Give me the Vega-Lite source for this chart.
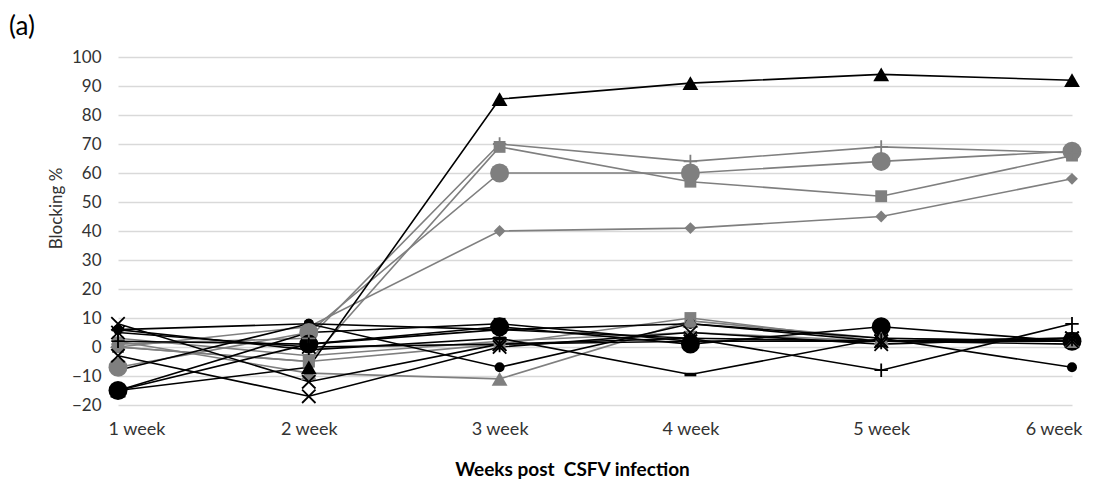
{
  "$schema": "https://vega.github.io/schema/vega-lite/v6.json",
  "width": 954,
  "height": 348,
  "autosize": {"type": "none"},
  "padding": {"left": 118, "top": 57, "right": 22, "bottom": 81},
  "background": "white",
  "title": {"text": "(a)", "anchor": "start", "frame": "group", "dx": -109, "offset": 8, "fontSize": 26, "fontWeight": "normal", "font": "Lato", "color": "#000000"},
  "config": {"view": {"stroke": null}},
  "data": {"values": [
    {"series": "G1", "group": "Group B", "week": "1 week", "value": 1},
    {"series": "G1", "group": "Group B", "week": "2 week", "value": 3},
    {"series": "G1", "group": "Group B", "week": "3 week", "value": 70},
    {"series": "G1", "group": "Group B", "week": "4 week", "value": 64},
    {"series": "G1", "group": "Group B", "week": "5 week", "value": 69},
    {"series": "G1", "group": "Group B", "week": "6 week", "value": 67},
    {"series": "G2", "group": "Group B", "week": "1 week", "value": 0},
    {"series": "G2", "group": "Group B", "week": "2 week", "value": -5},
    {"series": "G2", "group": "Group B", "week": "3 week", "value": 69},
    {"series": "G2", "group": "Group B", "week": "4 week", "value": 57},
    {"series": "G2", "group": "Group B", "week": "5 week", "value": 52},
    {"series": "G2", "group": "Group B", "week": "6 week", "value": 66},
    {"series": "G3", "group": "Group B", "week": "1 week", "value": -7},
    {"series": "G3", "group": "Group B", "week": "2 week", "value": 5},
    {"series": "G3", "group": "Group B", "week": "3 week", "value": 60},
    {"series": "G3", "group": "Group B", "week": "4 week", "value": 60},
    {"series": "G3", "group": "Group B", "week": "5 week", "value": 64},
    {"series": "G3", "group": "Group B", "week": "6 week", "value": 67.5},
    {"series": "G4", "group": "Group B", "week": "1 week", "value": 0},
    {"series": "G4", "group": "Group B", "week": "2 week", "value": 7},
    {"series": "G4", "group": "Group B", "week": "3 week", "value": 40},
    {"series": "G4", "group": "Group B", "week": "4 week", "value": 41},
    {"series": "G4", "group": "Group B", "week": "5 week", "value": 45},
    {"series": "G4", "group": "Group B", "week": "6 week", "value": 58},
    {"series": "G5", "group": "Group B", "week": "1 week", "value": 2},
    {"series": "G5", "group": "Group B", "week": "2 week", "value": -9},
    {"series": "G5", "group": "Group B", "week": "3 week", "value": -11},
    {"series": "G5", "group": "Group B", "week": "4 week", "value": 9},
    {"series": "G5", "group": "Group B", "week": "5 week", "value": 3},
    {"series": "G5", "group": "Group B", "week": "6 week", "value": 2},
    {"series": "G6", "group": "Group B", "week": "1 week", "value": 0},
    {"series": "G6", "group": "Group B", "week": "2 week", "value": -5},
    {"series": "G6", "group": "Group B", "week": "3 week", "value": 1},
    {"series": "G6", "group": "Group B", "week": "4 week", "value": 10},
    {"series": "G6", "group": "Group B", "week": "5 week", "value": 2},
    {"series": "G6", "group": "Group B", "week": "6 week", "value": 2},
    {"series": "G7", "group": "Group B", "week": "1 week", "value": 3},
    {"series": "G7", "group": "Group B", "week": "2 week", "value": -3},
    {"series": "G7", "group": "Group B", "week": "3 week", "value": 2},
    {"series": "G7", "group": "Group B", "week": "4 week", "value": 5},
    {"series": "G7", "group": "Group B", "week": "5 week", "value": 2},
    {"series": "G7", "group": "Group B", "week": "6 week", "value": 3},
    {"series": "B1", "group": "Group A", "week": "1 week", "value": -15},
    {"series": "B1", "group": "Group A", "week": "2 week", "value": -7},
    {"series": "B1", "group": "Group A", "week": "3 week", "value": 85.5},
    {"series": "B1", "group": "Group A", "week": "4 week", "value": 91},
    {"series": "B1", "group": "Group A", "week": "5 week", "value": 94},
    {"series": "B1", "group": "Group A", "week": "6 week", "value": 92},
    {"series": "B2", "group": "Group A", "week": "1 week", "value": 8},
    {"series": "B2", "group": "Group A", "week": "2 week", "value": -12},
    {"series": "B2", "group": "Group A", "week": "3 week", "value": 1},
    {"series": "B2", "group": "Group A", "week": "4 week", "value": 3},
    {"series": "B2", "group": "Group A", "week": "5 week", "value": 2},
    {"series": "B2", "group": "Group A", "week": "6 week", "value": 2},
    {"series": "B3", "group": "Group A", "week": "1 week", "value": -3},
    {"series": "B3", "group": "Group A", "week": "2 week", "value": -17},
    {"series": "B3", "group": "Group A", "week": "3 week", "value": 0},
    {"series": "B3", "group": "Group A", "week": "4 week", "value": 5},
    {"series": "B3", "group": "Group A", "week": "5 week", "value": 1},
    {"series": "B3", "group": "Group A", "week": "6 week", "value": 3},
    {"series": "B4", "group": "Group A", "week": "1 week", "value": -15},
    {"series": "B4", "group": "Group A", "week": "2 week", "value": 1},
    {"series": "B4", "group": "Group A", "week": "3 week", "value": 7},
    {"series": "B4", "group": "Group A", "week": "4 week", "value": 1},
    {"series": "B4", "group": "Group A", "week": "5 week", "value": 7},
    {"series": "B4", "group": "Group A", "week": "6 week", "value": 2},
    {"series": "B5", "group": "Group A", "week": "1 week", "value": -8},
    {"series": "B5", "group": "Group A", "week": "2 week", "value": 8},
    {"series": "B5", "group": "Group A", "week": "3 week", "value": -7},
    {"series": "B5", "group": "Group A", "week": "4 week", "value": 8},
    {"series": "B5", "group": "Group A", "week": "5 week", "value": 3},
    {"series": "B5", "group": "Group A", "week": "6 week", "value": -7},
    {"series": "B6", "group": "Group A", "week": "1 week", "value": 2},
    {"series": "B6", "group": "Group A", "week": "2 week", "value": 1},
    {"series": "B6", "group": "Group A", "week": "3 week", "value": 6},
    {"series": "B6", "group": "Group A", "week": "4 week", "value": 3},
    {"series": "B6", "group": "Group A", "week": "5 week", "value": -8},
    {"series": "B6", "group": "Group A", "week": "6 week", "value": 8},
    {"series": "B7", "group": "Group A", "week": "1 week", "value": -15},
    {"series": "B7", "group": "Group A", "week": "2 week", "value": 5},
    {"series": "B7", "group": "Group A", "week": "3 week", "value": 8},
    {"series": "B7", "group": "Group A", "week": "4 week", "value": 2},
    {"series": "B7", "group": "Group A", "week": "5 week", "value": 2},
    {"series": "B7", "group": "Group A", "week": "6 week", "value": 3},
    {"series": "B8", "group": "Group A", "week": "1 week", "value": 6},
    {"series": "B8", "group": "Group A", "week": "2 week", "value": -1},
    {"series": "B8", "group": "Group A", "week": "3 week", "value": 3},
    {"series": "B8", "group": "Group A", "week": "4 week", "value": -9.5},
    {"series": "B8", "group": "Group A", "week": "5 week", "value": 3},
    {"series": "B8", "group": "Group A", "week": "6 week", "value": 2},
    {"series": "B9", "group": "Group A", "week": "1 week", "value": 6},
    {"series": "B9", "group": "Group A", "week": "2 week", "value": 8},
    {"series": "B9", "group": "Group A", "week": "3 week", "value": 6},
    {"series": "B9", "group": "Group A", "week": "4 week", "value": 8},
    {"series": "B9", "group": "Group A", "week": "5 week", "value": 2},
    {"series": "B9", "group": "Group A", "week": "6 week", "value": 1},
    {"series": "B10", "group": "Group A", "week": "1 week", "value": 5},
    {"series": "B10", "group": "Group A", "week": "2 week", "value": 0},
    {"series": "B10", "group": "Group A", "week": "3 week", "value": 1},
    {"series": "B10", "group": "Group A", "week": "4 week", "value": 2},
    {"series": "B10", "group": "Group A", "week": "5 week", "value": 2},
    {"series": "B10", "group": "Group A", "week": "6 week", "value": 3}
  ]},
  "encoding": {
    "x": {
      "field": "week", "type": "ordinal",
      "sort": ["1 week", "2 week", "3 week", "4 week", "5 week", "6 week"],
      "scale": {"type": "point", "padding": 0},
      "axis": {
        "title": "Weeks post\u00a0 CSFV infection", "titleFont": "Lato", "titleFontSize": 19, "titleFontWeight": "bold", "titleColor": "#000000",
        "titleX": 454, "titlePadding": 22,
        "labelAngle": 0, "labelFont": "Lato", "labelFontSize": 18, "labelColor": "#333333", "labelPadding": 15,
        "labelFlush": true, "labelFlushOffset": 10,
        "domain": false, "ticks": false, "grid": false
      }
    },
    "y": {
      "field": "value", "type": "quantitative",
      "scale": {"domain": [-20, 100], "nice": false, "zero": false},
      "axis": {
        "title": "Blocking %", "titleFont": "Lato", "titleFontSize": 17, "titleFontWeight": "normal", "titleColor": "#333333",
        "titleY": 151, "titlePadding": 6,
        "values": [-20, -10, 0, 10, 20, 30, 40, 50, 60, 70, 80, 90, 100],
        "labelFont": "Lato", "labelFontSize": 17, "labelColor": "#333333", "labelPadding": 17,
        "domain": false, "ticks": false, "grid": true, "gridColor": "#d9d9d9", "gridWidth": 1.3
      }
    },
    "color": {
      "field": "group", "type": "nominal",
      "scale": {"domain": ["Group A", "Group B"], "range": ["#000000", "#7f7f7f"]},
      "legend": null
    },
    "shape": {
      "field": "series", "type": "nominal",
      "scale": {
        "domain": ["G1", "G2", "G3", "G4", "G5", "G6", "G7", "B1", "B2", "B3", "B4", "B5", "B6", "B7", "B8", "B9", "B10"],
        "range": ["M-1,0L1,0M0,-1L0,1", "square", "circle", "diamond", "triangle-up", "square", "M-1,-0.3H1V0.3H-1Z", "triangle-up", "M-1,-1L1,1M-1,1L1,-1", "M-1,-1L1,1M-1,1L1,-1", "circle", "circle", "M-1,0L1,0M0,-1L0,1", "square", "M-1,-0.3H1V0.3H-1Z", "circle", "M-1,-1L1,1M-1,1L1,-1M0,-1.2L0,1.2"]
      },
      "legend": null
    }
  },
  "layer": [
    {"mark": {"type": "line", "strokeWidth": 1.6}, "encoding": {"detail": {"field": "series"}, "shape": null}},
    {
      "transform": [{"filter": {"field": "series", "oneOf": ["G2", "G4", "G6", "G7", "B7", "B8"]}}],
      "mark": {"type": "point", "filled": true, "size": 140, "opacity": 1}
    },
    {
      "transform": [{"filter": {"field": "series", "oneOf": ["B5", "B9"]}}],
      "mark": {"type": "point", "filled": true, "size": 100, "opacity": 1}
    },
    {
      "transform": [{"filter": {"field": "series", "oneOf": ["G3", "B4"]}}],
      "mark": {"type": "point", "filled": true, "size": 360, "opacity": 1}
    },
    {
      "transform": [{"filter": {"field": "series", "oneOf": ["G5", "B1"]}}],
      "mark": {"type": "point", "filled": true, "size": 250, "opacity": 1}
    },
    {
      "transform": [{"filter": {"field": "series", "oneOf": ["G1", "B2", "B3", "B6", "B10"]}}],
      "mark": {"type": "point", "filled": false, "size": 180, "strokeWidth": 1.8, "opacity": 1}
    }
  ]
}
